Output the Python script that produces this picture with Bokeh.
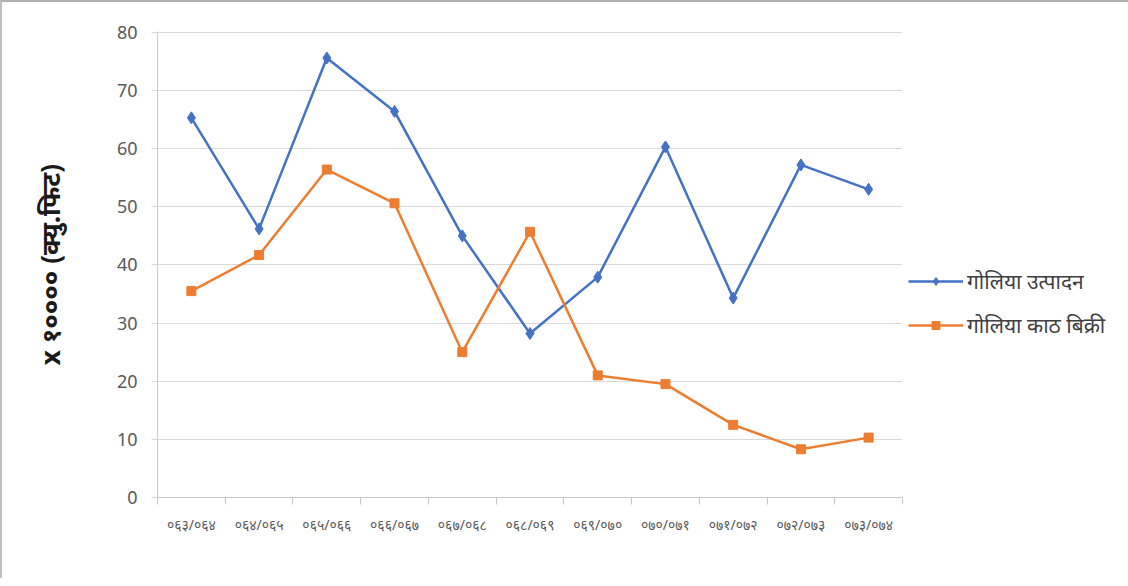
from bokeh.plotting import figure
from bokeh.models import FixedTicker, Legend, LegendItem, Range1d
from bokeh.embed import file_html
from bokeh.resources import INLINE

years = ["०६३/०६४", "०६४/०६५", "०६५/०६६", "०६६/०६७", "०६७/०६८", "०६८/०६९",
         "०६९/०७०", "०७०/०७१", "०७१/०७२", "०७२/०७३", "०७३/०७४"]
production = [65.3, 46.2, 75.6, 66.4, 45.0, 28.2, 37.9, 60.3, 34.3, 57.2, 53.0]
sales = [35.5, 41.7, 56.4, 50.6, 25.0, 45.7, 21.0, 19.5, 12.5, 8.3, 10.3]
series_names = ["गोलिया उत्पादन", "गोलिया काठ बिक्री"]
y_label = "x १०००० (क्यु.फिट)"

xs = [i + 0.5 for i in range(len(years))]
FONT = "Noto Sans"
AXIS_GRAY = "#C8C8C8"

p = figure(frame_width=745, frame_height=466, output_backend="svg", toolbar_location=None,
           x_range=Range1d(0, len(years)), y_range=Range1d(0, 80.15),
           min_border_left=155, min_border_right=10, min_border_top=29, min_border_bottom=81)
p.outline_line_color = None
p.background_fill_color = "white"
p.border_fill_color = "white"
p.styles = {"border-top": "2px solid #B0B0B0", "border-left": "2px solid #C0C0C0"}

p.xgrid.grid_line_color = None
p.ygrid.grid_line_color = "#D9D9D9"
p.ygrid.ticker = FixedTicker(ticks=list(range(0, 81, 10)))

p.yaxis.ticker = FixedTicker(ticks=list(range(0, 81, 10)))
p.yaxis.axis_line_color = AXIS_GRAY
p.yaxis.major_tick_line_color = "#D9D9D9"
p.yaxis.major_tick_out = 6
p.yaxis.major_tick_in = 0
p.yaxis.minor_tick_line_color = None
p.yaxis.major_label_text_font = FONT
p.yaxis.major_label_text_font_size = "18px"
p.yaxis.major_label_text_color = "#595959"
p.yaxis.major_label_standoff = 14
p.yaxis.axis_label = y_label
p.yaxis.axis_label_text_font = FONT
p.yaxis.axis_label_text_font_size = "26px"
p.yaxis.axis_label_text_font_style = "bold"
p.yaxis.axis_label_text_color = "#1a1a1a"
p.yaxis.axis_label_standoff = 46

p.xaxis.ticker = FixedTicker(ticks=xs, minor_ticks=list(range(len(years) + 1)))
p.xaxis.major_label_overrides = {x: y for x, y in zip(xs, years)}
p.xaxis.major_tick_line_color = None
p.xaxis.minor_tick_line_color = AXIS_GRAY
p.xaxis.minor_tick_out = 7
p.xaxis.minor_tick_in = 0
p.xaxis.axis_line_color = AXIS_GRAY
p.xaxis.major_label_text_font = FONT
p.xaxis.major_label_text_font_size = "14px"
p.xaxis.major_label_text_color = "#595959"
p.xaxis.major_label_standoff = 10

l1 = p.line(xs, production, line_color="#4472C4", line_width=2.5)
m1 = p.scatter(xs, production, marker="diamond", size=12, fill_color="#4472C4", line_color="#4472C4")
l2 = p.line(xs, sales, line_color="#ED7D31", line_width=2.5)
m2 = p.scatter(xs, sales, marker="square", size=9, fill_color="#ED7D31", line_color="#ED7D31")

legend = Legend(items=[LegendItem(label=series_names[0], renderers=[l1, m1]),
                       LegendItem(label=series_names[1], renderers=[l2, m2])],
                location=(6, 158), border_line_color=None, background_fill_alpha=0,
                label_text_font=FONT, label_text_font_size="21px", label_text_color="#404040",
                glyph_width=55, label_standoff=4, spacing=16, margin=0, padding=0)
p.add_layout(legend, "right")

open("out.html", "w").write(file_html(p, INLINE))
